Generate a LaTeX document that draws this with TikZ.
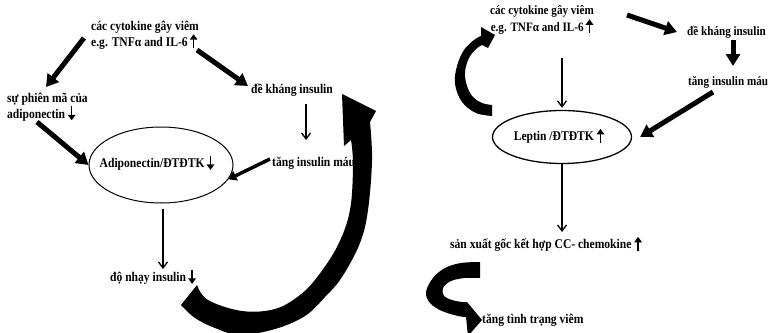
\documentclass[tikz,border=0pt]{standalone}
\usepackage{fontspec}
\usepackage{graphicx}
\setmainfont{Liberation Serif}[FakeStretch=0.87]
\usetikzlibrary{arrows.meta,shapes.geometric,calc}
\newcommand\uparr{\tikz[baseline=0pt]\draw[line width=1.3pt,-{Triangle[length=5.5pt,width=7.5pt]}] (0pt,-2pt) -- (0pt,12pt);}
\newcommand\dnarr{\tikz[baseline=0pt]\draw[line width=1.3pt,-{Triangle[length=5.5pt,width=7.5pt]}] (0pt,12pt) -- (0pt,-2pt);}
\begin{document}
\begin{tikzpicture}[x=1pt,y=-1pt,
  lbl/.style={font=\fontsize{13.3}{16}\selectfont\bfseries, inner sep=0pt},
  lblr/.style={font=\fontsize{12.8}{14}\selectfont\bfseries, inner sep=0pt},
  bigarrow/.style={line width=5pt,-{Triangle[length=12pt,width=14pt]}},
  midarrow/.style={line width=3.5pt,-{Triangle[length=8pt,width=10pt]}},
  thinarrow/.style={line width=1.3pt,-{Straight Barb[length=6pt,width=9pt]}},
  oval/.style={draw, ellipse, inner sep=0pt}
]
\useasboundingbox (0,0) rectangle (771,332);
% ---------- left diagram ----------
\node[lbl, anchor=west, align=left] (cytL) at (91,35) {các cytokine gây viêm\\e.g. TNFα and IL-6\,\uparr};
\node[lbl, anchor=west] (dekhL) at (251,90) {đề kháng insulin};
\node[lbl, anchor=west, align=left] (phien) at (7,107) {sự phiên mã của\\adiponectin \dnarr};
\node[lbl, anchor=west] (tangL) at (272,163) {tăng insulin máu};
\node[oval, line width=1pt, minimum width=144pt, minimum height=76pt] (adipo) at (161,165) {};
\node[lbl] (adipoT) at (157,163) {Adiponectin/ĐTĐTK\,\dnarr};
\node[lbl, anchor=west] (nhay) at (110,277) {độ nhạy insulin\,\dnarr};

\draw[bigarrow] ($(cytL.west)+(-7,3)$) -- ($(phien.west)+(39,-20)$);
\draw[bigarrow] ($(cytL.west)+(106,15)$) -- ($(dekhL.west)+(-3,-4)$);
\draw[bigarrow] ($(phien.west)+(30,15)$) -- (adipo.west);
\draw[thinarrow] ($(dekhL.west)+(55,14)$) -- ($(tangL.west)+(34,-23)$);
\draw[midarrow] ($(tangL.west)+(-2,-4)$) -- (adipo.-12);
\draw[thinarrow] ($(adipo.south)+(2,5)$) -- ($(nhay.west)+(53,-8)$);

\fill (181,305) -- (197,285)
  -- plot[smooth, tension=0.6] coordinates {(197,285) (208,300) (242,311) (275,309) (300,295) (318,276) (338,245) (350,210) (353,165) (351,140)}
  -- (344,146) -- (342,94) -- (376,111) -- (370,122)
  -- plot[smooth, tension=0.6] coordinates {(370,122) (372,160) (368,210) (360,243) (342,277) (325,297) (305,316) (275,329) (240,335) (215,328) (195,318) (181,305)}
  -- cycle;

% ---------- right diagram ----------
\node[lblr, align=center] (cytR) at (542,20) {các cytokine gây viêm\\e.g. TNFα and IL-6\,\uparr};
\node[lblr, anchor=west] (dekhR) at (687,32) {đề kháng insulin};
\node[lblr, anchor=west] (tangR) at (688,82) {tăng insulin máu};
\node[oval, line width=1.3pt, minimum width=139pt, minimum height=53pt] (lep) at (562,137) {};
\node[lbl] (lepT) at (559,136) {Leptin /ĐTĐTK \uparr};
\node[lbl, anchor=west] (chem) at (450,244) {sản xuất gốc kết hợp CC- chemokine \uparr};
\node[lbl, anchor=west] (viem) at (482,320) {tăng tình trạng viêm};

\draw[bigarrow] ($(cytR.center)+(85,-5)$) -- ($(dekhR.west)+(-10,0)$);
\draw[bigarrow] ($(dekhR.west)+(46,8)$) -- ($(tangR.west)+(45,-16)$);
\draw[bigarrow] ($(tangR.west)+(25,10)$) -- ($(lep.east)+(8,0)$);
\draw[thinarrow] ($(cytR.center)+(20,38)$) -- ($(lep.north)+(0,-2)$);
\draw[thinarrow] (lep.south) -- ($(chem.west)+(112,-12)$);

\fill (492,116)
  -- plot[smooth, tension=0.6] coordinates {(492,116) (476,113) (462,102) (455,84) (457,66) (464,50) (474,40) (481,36)}
  -- (481,27) -- (495,35) -- (488,48) -- (482,45)
  -- plot[smooth, tension=0.6] coordinates {(482,45) (476,49) (469,58) (465,72) (467,86) (473,97) (482,103) (492,105)}
  -- cycle;

\fill (480,262)
  -- plot[smooth, tension=0.6] coordinates {(480,262) (461,263) (445,268) (433,278) (426,292) (430,303) (442,311) (458,316) (466,317)}
  -- (468,336) -- (482,320) -- (467,302) -- (462,302)
  -- plot[smooth, tension=0.6] coordinates {(462,302) (452,300) (444,296) (443,288) (451,281) (465,278) (480,278)}
  -- cycle;
\end{tikzpicture}
\end{document}
